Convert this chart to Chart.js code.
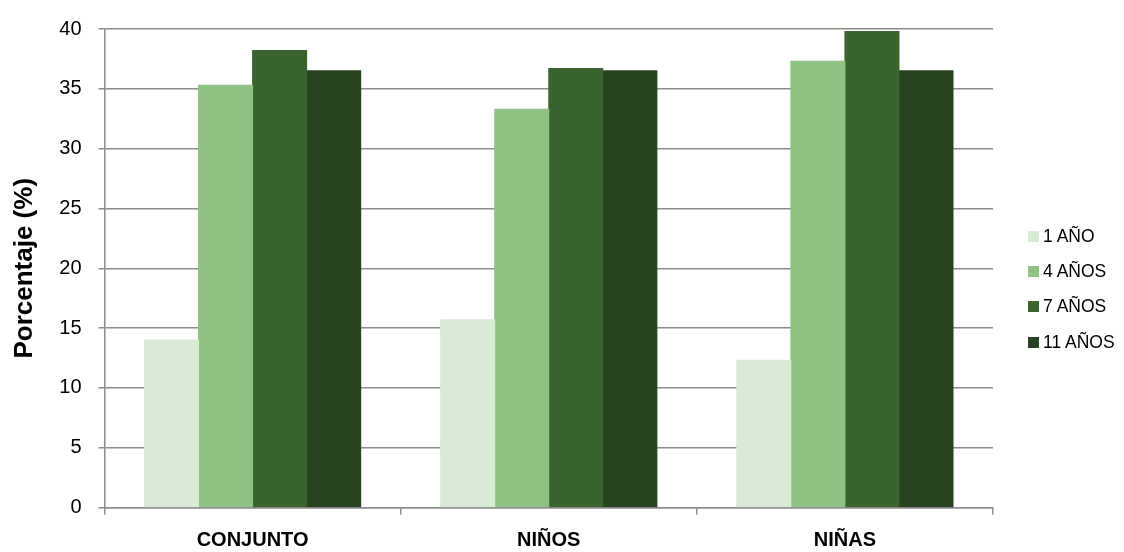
<!DOCTYPE html>
<html>
<head>
<meta charset="utf-8">
<script src="https://cdn.jsdelivr.net/npm/chart.js@4.4.1/dist/chart.umd.min.js"></script>
<style>
  html, body { margin: 0; padding: 0; background: #ffffff; }
  #wrap { position: relative; width: 1124px; height: 552px; }
  #legend {
    position: absolute; left: 1028px; top: 218.5px;
    font-family: "Liberation Sans", Arial, sans-serif; font-size: 17.5px; color: #000;
  }
  #legend .item { display: flex; align-items: center; height: 35.3px; white-space: nowrap; }
  #legend .sw { width: 11px; height: 11px; margin-right: 4px; flex: none; }
</style>
</head>
<body>
<div id="wrap">
  <canvas id="chart" width="1124" height="552"></canvas>
  <div id="legend"></div>
</div>
<script>
// Grupos y series de edad
const categories = ['CONJUNTO', 'NIÑOS', 'NIÑAS'];
const seriesLabels = ['1 AÑO', '4 AÑOS', '7 AÑOS', '11 AÑOS'];
const unAnio = [14.0, 15.7, 12.3];
const cuatroAnios = [35.3, 33.3, 37.3];
const sieteAnios = [38.2, 36.7, 39.8];
const onceAnios = [36.5, 36.5, 36.5];
const yTicks = [0, 5, 10, 15, 20, 25, 30, 35, 40];

const seriesColors = ['#D9EAD6', '#8FC283', '#3B6330', '#274221'];
const seriesValues = [unAnio, cuatroAnios, sieteAnios, onceAnios];
const gridColor = '#8c8c8c';
const fontFamily = '"Liberation Sans", Arial, sans-serif';

const datasets = seriesLabels.map((label, i) => ({
  label,
  data: seriesValues[i],
  backgroundColor: seriesColors[i],
  borderWidth: 0,
  inflateAmount: 0.5,
  categoryPercentage: 0.73,
  barPercentage: 1.0
}));

// Leyenda a la derecha
const legendEl = document.getElementById('legend');
datasets.forEach(ds => {
  const item = document.createElement('div');
  item.className = 'item';
  const sw = document.createElement('span');
  sw.className = 'sw';
  sw.style.background = ds.backgroundColor;
  const txt = document.createElement('span');
  txt.textContent = ds.label;
  item.appendChild(sw);
  item.appendChild(txt);
  legendEl.appendChild(item);
});

new Chart(document.getElementById('chart'), {
  type: 'bar',
  data: { labels: categories, datasets },
  options: {
    responsive: false,
    animation: false,
    layout: { padding: { left: 0, top: 24, right: 131, bottom: 0 } },
    plugins: { legend: { display: false }, tooltip: { enabled: false } },
    scales: {
      x: {
        grid: {
          display: true, drawOnChartArea: false, drawTicks: true,
          tickLength: 7, color: gridColor, lineWidth: 1.5, offset: true
        },
        border: { display: true, color: gridColor, width: 1.5 },
        ticks: {
          color: '#000', padding: 14,
          font: { family: fontFamily, size: 20, weight: 'bold' }
        },
        afterFit: s => { s.height = 44.5; }
      },
      y: {
        min: 0, max: 40,
        afterBuildTicks: s => { s.ticks = yTicks.map(v => ({ value: v })); },
        grid: { color: gridColor, lineWidth: 1.5, tickLength: 6 },
        border: { display: true, color: gridColor, width: 1.5 },
        ticks: {
          color: '#000', padding: 17,
          font: { family: fontFamily, size: 20 }
        },
        title: {
          display: true, text: 'Porcentaje (%)', color: '#000',
          font: { family: fontFamily, size: 26, weight: 'bold' },
          padding: { top: 9, bottom: 0 }
        },
        afterFit: s => { s.width = 104.5; }
      }
    }
  }
});
</script>
</body>
</html>
